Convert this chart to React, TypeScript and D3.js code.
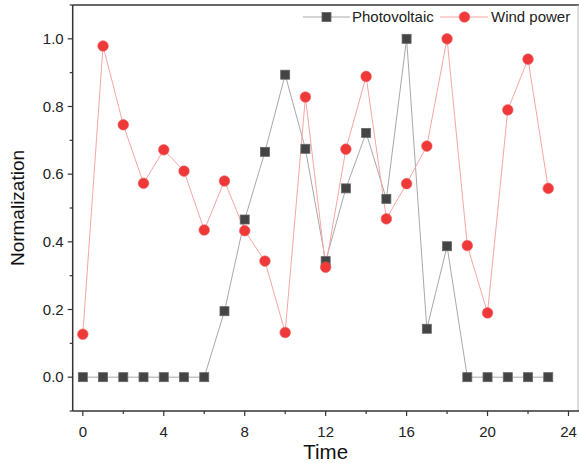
import React from "react";
import * as d3 from "d3";

const hours = d3.range(0, 24);
const photovoltaic = [0, 0, 0, 0, 0, 0, 0, 0.195, 0.466, 0.666, 0.894, 0.675, 0.343, 0.558, 0.722, 0.527, 1.0, 0.143, 0.387, 0, 0, 0, 0, 0];
const windPower = [0.127, 0.979, 0.746, 0.573, 0.672, 0.609, 0.435, 0.58, 0.433, 0.343, 0.132, 0.828, 0.325, 0.674, 0.889, 0.468, 0.572, 0.683, 1.0, 0.389, 0.19, 0.79, 0.94, 0.558];
const xTicks = [0, 4, 8, 12, 16, 20, 24];
const xMinor = [2, 6, 10, 14, 18, 22];
const yTicks = [0, 0.2, 0.4, 0.6, 0.8, 1.0];
const yMinor = [-0.1, 0.1, 0.3, 0.5, 0.7, 0.9, 1.1];

const W = 579, H = 463;
const left = 72.7, right = 578, top = 5, bottom = 411;

export default function App() {
  const x = d3.scaleLinear().domain([-0.5, 24.47]).range([left, right]);
  const y = d3.scaleLinear().domain([-0.1, 1.1]).range([bottom, top]);
  const line = d3.line<number>().x((_, i) => x(hours[i])).y((d) => y(d));
  const font = "Arial, 'Liberation Sans', sans-serif";
  const sq = 9;
  return (
    <svg width={W} height={H} style={{ position: "absolute", left: 0, top: 0, background: "#fff" }} fontFamily={font}>
      {/* frame */}
      <line x1={left} x2={W} y1={top} y2={top} stroke="#333" strokeWidth={1.5} />
      <line x1={right} x2={right} y1={top} y2={bottom} stroke="#bbb" strokeWidth={1} />
      <line x1={left} x2={left} y1={top} y2={bottom} stroke="#333" strokeWidth={1.5} />
      <line x1={left} x2={W} y1={bottom} y2={bottom} stroke="#333" strokeWidth={1.5} />
      {/* y ticks */}
      {yTicks.map((t) => (
        <g key={"y" + t}>
          <line x1={left - 5} x2={left} y1={y(t)} y2={y(t)} stroke="#333" strokeWidth={1.2} />
          <text x={left - 9} y={y(t)} dy="0.35em" textAnchor="end" fontSize={15} fill="#222">{t.toFixed(1)}</text>
        </g>
      ))}
      {yMinor.map((t) => (
        <line key={"ym" + t} x1={left - 3} x2={left} y1={y(t)} y2={y(t)} stroke="#333" strokeWidth={1.2} />
      ))}
      {/* x ticks */}
      {xTicks.map((t) => (
        <g key={"x" + t}>
          <line x1={x(t)} x2={x(t)} y1={bottom} y2={bottom + 5} stroke="#333" strokeWidth={1.2} />
          <text x={x(t)} y={bottom + 26} textAnchor="middle" fontSize={15} fill="#222">{t}</text>
        </g>
      ))}
      {xMinor.map((t) => (
        <line key={"xm" + t} x1={x(t)} x2={x(t)} y1={bottom} y2={bottom + 3} stroke="#333" strokeWidth={1.2} />
      ))}
      {/* axis titles */}
      <text x={x(12)} y={459} textAnchor="middle" fontSize={20.5} fill="#111">Time</text>
      <text transform={`translate(24,${(top + bottom) / 2}) rotate(-90)`} textAnchor="middle" fontSize={19} fill="#111">Normalization</text>
      {/* lines */}
      <path d={line(photovoltaic) || ""} fill="none" stroke="#a8a8a8" strokeWidth={1} />
      <path d={line(windPower) || ""} fill="none" stroke="#f7a5a5" strokeWidth={1} />
      {/* markers */}
      {photovoltaic.map((v, i) => (
        <rect key={"p" + i} x={x(hours[i]) - sq / 2} y={y(v) - sq / 2} width={sq} height={sq} fill="#444" stroke="#666" strokeWidth={0.8} />
      ))}
      {windPower.map((v, i) => (
        <circle key={"w" + i} cx={x(hours[i])} cy={y(v)} r={5.3} fill="#ef3838" stroke="#f06060" strokeWidth={0.6} />
      ))}
      {/* legend */}
      <g>
        <line x1={303} x2={350} y1={17} y2={17} stroke="#a8a8a8" strokeWidth={1} />
        <rect x={326.5 - sq / 2} y={17 - sq / 2} width={sq} height={sq} fill="#444" stroke="#666" strokeWidth={0.8} />
        <text x={352} y={17} dy="0.35em" fontSize={15} fill="#222">Photovoltaic</text>
        <line x1={440} x2={488} y1={17} y2={17} stroke="#f7a5a5" strokeWidth={1} />
        <circle cx={464.5} cy={17} r={5.3} fill="#ef3838" stroke="#f06060" strokeWidth={0.6} />
        <text x={491} y={17} dy="0.35em" fontSize={15} fill="#222">Wind power</text>
      </g>
    </svg>
  );
}
